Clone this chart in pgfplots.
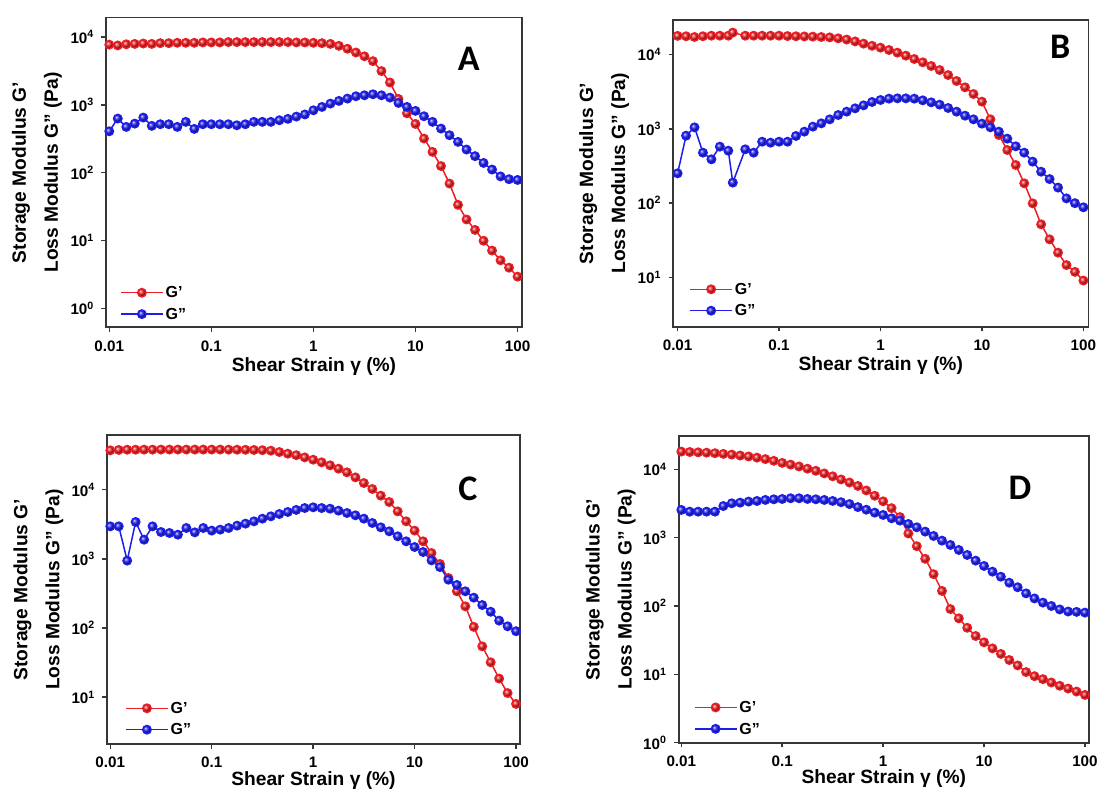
\documentclass[border=0pt]{standalone}
\usepackage{fontspec}
\setmainfont{Liberation Sans}
\newfontfamily\letterfont{Carlito}
\usepackage{pgfplots}
\usepackage{pgfplotstable}
\pgfplotsset{compat=1.18}

\definecolor{gred}{RGB}{235,30,35}
\definecolor{gblue}{RGB}{30,30,235}
\definecolor{framec}{RGB}{55,55,55}

\pgfplotstableread[row sep=\\]{
x gp gpp\\
0.01 7700 407\\
0.01212 7500 627\\
0.01468 7800 472\\
0.01778 7900 528\\
0.02154 8000 648\\
0.02610 7900 489\\
0.03162 8100 517\\
0.03831 8100 517\\
0.04642 8200 472\\
0.05623 8200 560\\
0.06813 8200 441\\
0.08254 8300 517\\
0.1 8300 517\\
0.1212 8300 517\\
0.1468 8400 517\\
0.1778 8400 499\\
0.2154 8400 517\\
0.2610 8400 560\\
0.3162 8400 560\\
0.3831 8400 560\\
0.4642 8400 592\\
0.5623 8400 620\\
0.6813 8300 670\\
0.8254 8300 720\\
1 8200 830\\
1.212 8100 930\\
1.468 7900 1042\\
1.778 7400 1141\\
2.154 6700 1234\\
2.610 5900 1336\\
3.162 5190 1381\\
3.831 4400 1429\\
4.642 3140 1381\\
5.623 2130 1276\\
6.813 1220 1065\\
8.254 750 930\\
10 522 813\\
12.12 318 678\\
14.68 202 560\\
17.78 125 446\\
21.54 69 356\\
26.10 33.5 284\\
31.62 20.4 219\\
38.31 14.3 175\\
46.42 9.9 139\\
56.23 7.1 111\\
68.13 5.1 88\\
82.54 3.97 80\\
100 2.93 78\\
}\tabA

\pgfplotstableread[row sep=\\]{
x gp gpp\\
0.01 17800 252\\
0.01212 17600 809\\
0.01468 17200 1047\\
0.01778 17600 478\\
0.02154 17900 389\\
0.02610 17900 576\\
0.03162 17900 508\\
0.0350 19700 189\\
0.04642 17900 530\\
0.05623 17900 478\\
0.06813 17900 671\\
0.08254 17900 651\\
0.1 17900 671\\
0.1212 17700 671\\
0.1468 17600 801\\
0.1778 17500 917\\
0.2154 17400 1070\\
0.2610 17200 1186\\
0.3162 17000 1342\\
0.3831 16500 1534\\
0.4642 15900 1702\\
0.5623 15000 1887\\
0.6813 14000 2070\\
0.8254 13100 2296\\
1 12360 2443\\
1.212 11500 2546\\
1.468 10590 2571\\
1.778 9650 2571\\
2.154 8700 2546\\
2.610 7850 2417\\
3.162 7000 2273\\
3.831 6180 2115\\
4.642 5290 1907\\
5.623 4400 1702\\
6.813 3620 1503\\
8.254 2940 1342\\
10 2320 1174\\
12.12 1343 1048\\
14.68 826 917\\
17.78 519 738\\
21.54 326 582\\
26.10 185 478\\
31.62 99.5 362\\
38.31 51.9 265\\
46.42 32.6 211\\
56.23 21.6 162\\
68.13 14.7 116\\
82.54 11.9 100\\
100 9.1 88\\
}\tabB

\pgfplotstableread[row sep=\\]{
x gp gpp\\
0.01 37000 2951\\
0.01212 37500 2951\\
0.01468 37800 942\\
0.01778 37800 3414\\
0.02154 37900 1893\\
0.02610 37900 2951\\
0.03162 38000 2443\\
0.03831 38000 2365\\
0.04642 38000 2237\\
0.05623 38000 2793\\
0.06813 38000 2417\\
0.08254 38000 2793\\
0.1 38000 2560\\
0.1212 38000 2644\\
0.1468 37900 2793\\
0.1778 37800 3020\\
0.2154 37700 3229\\
0.2610 37500 3486\\
0.3162 37200 3811\\
0.3831 36600 4118\\
0.4642 35000 4450\\
0.5623 33100 4758\\
0.6813 31500 5100\\
0.8254 29300 5430\\
1 27100 5560\\
1.212 24850 5430\\
1.468 22480 5310\\
1.778 20110 4970\\
2.154 17800 4600\\
2.610 15070 4260\\
3.162 12480 3810\\
3.831 10230 3300\\
4.642 8190 2856\\
5.623 6630 2502\\
6.813 4860 2119\\
8.254 3490 1792\\
10 2560 1484\\
12.12 1792 1256\\
14.68 1215 950\\
17.78 843 760\\
21.54 529 500\\
26.10 340 420\\
31.62 206 340\\
38.31 104 275\\
46.42 54.4 215\\
56.23 32 172\\
68.13 18.6 128\\
82.54 11.5 106\\
100 8.0 90\\
}\tabC

\pgfplotstableread[row sep=\\]{
x gp gpp\\
0.01 18150 2540\\
0.01212 17900 2400\\
0.01468 17700 2400\\
0.01778 17500 2400\\
0.02154 17200 2400\\
0.02610 16800 2900\\
0.03162 16400 3180\\
0.03831 15900 3250\\
0.04642 15400 3370\\
0.05623 14800 3440\\
0.06813 14100 3560\\
0.08254 13300 3640\\
0.1 12400 3680\\
0.1212 11700 3770\\
0.1468 11000 3770\\
0.1778 10200 3680\\
0.2154 9500 3640\\
0.2610 8700 3560\\
0.3162 7900 3440\\
0.3831 7100 3300\\
0.4642 6400 3100\\
0.5623 5700 2800\\
0.6813 4900 2560\\
0.8254 4100 2322\\
1 3400 2147\\
1.212 2700 1919\\
1.468 2000 1774\\
1.778 1150 1585\\
2.154 750 1417\\
2.610 490 1225\\
3.162 292 1058\\
3.831 166 904\\
4.642 90 781\\
5.623 66 660\\
6.813 48 558\\
8.254 36.4 461\\
10 29.4 385\\
12.12 24 318\\
14.68 19.9 268\\
17.78 16.2 219\\
21.54 13.5 188\\
26.10 10.8 153\\
31.62 9.4 129\\
38.31 8.5 112\\
46.42 7.6 100\\
56.23 6.8 89\\
68.13 6.2 83\\
82.54 5.6 82\\
100 5.0 80\\
}\tabD

\tikzset{myletter/.style={font=\letterfont\bfseries\fontsize{18}{18}\selectfont, anchor=center}}

\pgfplotsset{
  every axis/.append style={
    scale only axis,
    axis line style={framec, line width=0.85pt},
    tick style={framec, line width=0.75pt},
    tick align=outside, tick pos=left,
    major tick length=2.3pt,
    xminorticks=false, yminorticks=false,
    xtick={0.01,0.1,1,10,100},
    xticklabels={0.01,0.1,1,10,100},
    tick label style={font=\fontsize{7.6}{8}\selectfont\bfseries},
    xticklabel style={yshift=-0.8pt},
    xlabel={Shear Strain γ (\%)},
    xlabel style={font=\fontsize{9.6}{11}\selectfont\bfseries, anchor=center},
    ylabel={Storage Modulus G’\\Loss Modulus G” (Pa)},
    ylabel style={font=\fontsize{9.6}{16}\selectfont\bfseries, align=center,
      at={(axis description cs:-0.166,0.5)}, anchor=center},
    legend style={draw=none, fill=none, inner sep=0pt, outer sep=0pt,
      font=\fontsize{8}{9}\selectfont\bfseries, anchor=west,
      row sep=1.5pt,
      nodes={inner sep=1pt, text height=6.2pt, text depth=1pt}},
    legend cell align=left,
  },
  legend image code/.code={\draw[mark repeat=2,mark phase=2,#1] plot coordinates {(0pt,0pt) (10.5pt,0pt) (21pt,0pt)};},
  mygp/.style={gred, line width=0.75pt, mark=ball, mark size=2.1pt, mark options={ball color=gred}},
  mygpp/.style={gblue, line width=0.75pt, mark=ball, mark size=2.1pt, mark options={ball color=gblue}},
}

\begin{document}
\begin{tikzpicture}
% Panel A
\begin{loglogaxis}[at={(53pt,232.35pt)}, anchor=south west, width=208pt, height=154.85pt,
  xmin=0.00929, xmax=110.5, ymin=0.525, ymax=19300,
  ytick={1,10,100,1000,10000},
  yticklabels={10\textsuperscript{0},10\textsuperscript{1},10\textsuperscript{2},10\textsuperscript{3},10\textsuperscript{4}},
  xlabel style={at={(axis description cs:0.5,-0.126)}},
  legend style={at={(axis description cs:0.034,0.077)}}]
\addplot[mygp] table[x=x,y=gp] {\tabA};
\addplot[mygpp] table[x=x,y=gpp] {\tabA};
\legend{G’,G”}
\node[myletter] at (rel axis cs:0.872,0.866) {A};
\end{loglogaxis}
% Panel B
\begin{loglogaxis}[at={(336.6pt,232.65pt)}, anchor=south west, width=207.6pt, height=153.35pt,
  xmin=0.00905, xmax=112, ymin=2.18, ymax=29130,
  ytick={10,100,1000,10000},
  yticklabels={10\textsuperscript{1},10\textsuperscript{2},10\textsuperscript{3},10\textsuperscript{4}},
  xlabel style={at={(axis description cs:0.5,-0.127)}},
  legend style={at={(axis description cs:0.039,0.087)}}]
\addplot[mygp] table[x=x,y=gp] {\tabB};
\addplot[mygpp] table[x=x,y=gpp] {\tabB};
\legend{G’,G”}
\node[myletter] at (rel axis cs:0.932,0.912) {B};
\end{loglogaxis}
% Panel C
\begin{loglogaxis}[at={(53.5pt,24pt)}, anchor=south west, width=206.5pt, height=154.35pt,
  xmin=0.00928, xmax=109.4, ymin=2.11, ymax=61100,
  ytick={10,100,1000,10000},
  yticklabels={10\textsuperscript{1},10\textsuperscript{2},10\textsuperscript{3},10\textsuperscript{4}},
  xlabel style={at={(axis description cs:0.5,-0.117)}},
  legend style={at={(axis description cs:0.044,0.081)}}]
\addplot[mygp] table[x=x,y=gp] {\tabC};
\addplot[mygpp] table[x=x,y=gpp] {\tabC};
\legend{G’,G”}
\node[myletter] at (rel axis cs:0.874,0.828) {C};
\end{loglogaxis}
% Panel D
\begin{loglogaxis}[at={(339.35pt,24.65pt)}, anchor=south west, width=205.15pt, height=153.35pt,
  xmin=0.00942, xmax=109.6, ymin=1, ymax=30700,
  ytick={1,10,100,1000,10000},
  yticklabels={10\textsuperscript{0},10\textsuperscript{1},10\textsuperscript{2},10\textsuperscript{3},10\textsuperscript{4}},
  xlabel style={at={(axis description cs:0.5,-0.117)}},
  legend style={at={(axis description cs:0.037,0.08)}}]
\addplot[mygp] table[x=x,y=gp] {\tabD};
\addplot[mygpp] table[x=x,y=gpp] {\tabD};
\legend{G’,G”}
\node[myletter] at (rel axis cs:0.832,0.830) {D};
\end{loglogaxis}
\pgfresetboundingbox
\path (0pt,0pt) rectangle (549.5pt,396pt);
\end{tikzpicture}
\end{document}
